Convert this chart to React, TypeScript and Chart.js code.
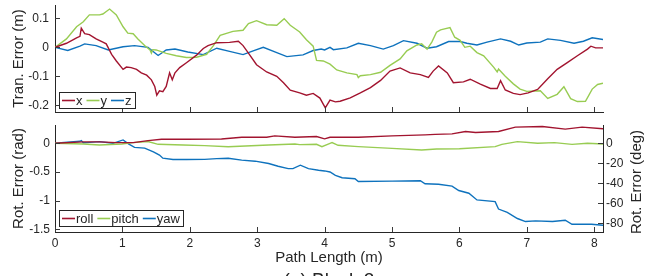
import React, { useEffect, useRef } from 'react';
import { Chart, registerables } from 'chart.js';

Chart.register(...registerables);

// ---------- data ----------
const pathTicks = [0, 1, 2, 3, 4, 5, 6, 7, 8];
const tranTicks = [-0.2, -0.1, 0, 0.1];
const radTicks = [-1.5, -1, -0.5, 0];
const degTicks = [-80, -60, -40, -20, 0];

const pathMax = 8.13;
const tranMin = -0.223;
const tranMax = 0.146;
const radMin = -1.547;
const radMax = 0.319;

const transLabels = ['x', 'y', 'z'];
const rotLabels = ['roll', 'pitch', 'yaw'];

const transX: [number, number][] = [
  [0, 0], [0.17, 0.014], [0.32, 0.033], [0.37, 0.038], [0.39, 0.066], [0.44, 0.047], [0.51, 0.044],
  [0.61, 0.029], [0.71, 0.018], [0.76, 0.012], [0.84, -0.024], [0.91, -0.047], [1.01, -0.076],
  [1.06, -0.068], [1.13, -0.07], [1.21, -0.076], [1.28, -0.088], [1.36, -0.096], [1.43, -0.112],
  [1.48, -0.135], [1.51, -0.165], [1.55, -0.15], [1.6, -0.153], [1.65, -0.135], [1.7, -0.088],
  [1.74, -0.112], [1.78, -0.088], [1.85, -0.07], [1.95, -0.053], [2.1, -0.027], [2.2, -0.004],
  [2.27, 0.006], [2.4, 0.016], [2.59, 0.017], [2.72, 0.021], [2.79, 0.006], [2.87, -0.02],
  [2.99, -0.06], [3.14, -0.085], [3.29, -0.1], [3.39, -0.122], [3.49, -0.148], [3.63, -0.157],
  [3.73, -0.165], [3.83, -0.159], [3.93, -0.175], [4.01, -0.209], [4.08, -0.182], [4.16, -0.188],
  [4.23, -0.186], [4.38, -0.174], [4.53, -0.157], [4.68, -0.139], [4.83, -0.114], [4.97, -0.082],
  [5.12, -0.071], [5.27, -0.088], [5.42, -0.094], [5.54, -0.104], [5.61, -0.082], [5.69, -0.064],
  [5.82, -0.088], [5.91, -0.122], [6.06, -0.119], [6.16, -0.11], [6.31, -0.127], [6.46, -0.142],
  [6.56, -0.142], [6.61, -0.115], [6.68, -0.147], [6.8, -0.159], [6.9, -0.163], [7.02, -0.157],
  [7.16, -0.145], [7.31, -0.108], [7.45, -0.076], [7.6, -0.053], [7.75, -0.029], [7.9, -0.006],
  [7.95, 0.004], [8.02, -0.002], [8.13, -0.002],
];

const transY: [number, number][] = [
  [0, 0], [0.17, 0.029], [0.32, 0.071], [0.42, 0.088], [0.51, 0.112], [0.66, 0.112], [0.71, 0.115],
  [0.81, 0.132], [0.91, 0.112], [1.01, 0.071], [1.08, 0.049], [1.16, 0.047], [1.23, 0.029],
  [1.33, 0.006], [1.41, -0.009], [1.43, -0.02], [1.45, -0.008], [1.5, -0.009], [1.65, -0.021],
  [1.8, -0.029], [1.95, -0.035], [2.1, -0.034], [2.25, -0.024], [2.35, 0.006], [2.45, 0.041],
  [2.64, 0.055], [2.79, 0.059], [2.87, 0.082], [2.99, 0.092], [3.14, 0.078], [3.29, 0.076],
  [3.4, 0.099], [3.49, 0.076], [3.63, 0.053], [3.73, 0.026], [3.83, 0.004], [3.88, -0.045],
  [3.98, -0.047], [4.08, -0.058], [4.18, -0.078], [4.33, -0.088], [4.48, -0.094], [4.5, -0.104],
  [4.53, -0.098], [4.68, -0.094], [4.83, -0.086], [4.97, -0.062], [5.12, -0.04], [5.22, -0.012],
  [5.37, 0.008], [5.44, 0.012], [5.52, -0.006], [5.59, 0.018], [5.66, 0.052], [5.72, 0.06],
  [5.86, 0.068], [5.93, 0.035], [6.01, 0.024], [6.08, 0.0], [6.16, 0.004], [6.26, -0.018],
  [6.36, -0.029], [6.51, -0.069], [6.56, -0.085], [6.58, -0.075], [6.68, -0.1], [6.8, -0.126],
  [6.9, -0.144], [7.0, -0.152], [7.2, -0.15], [7.31, -0.176], [7.45, -0.162], [7.55, -0.136],
  [7.65, -0.177], [7.75, -0.187], [7.87, -0.186], [7.97, -0.144], [8.05, -0.128], [8.13, -0.124],
];

const transZ: [number, number][] = [
  [0, 0], [0.19, -0.011], [0.37, 0.004], [0.44, 0.012], [0.61, 0.006], [0.79, -0.009], [1.01, 0.002],
  [1.18, 0.006], [1.38, 0.0], [1.53, -0.028], [1.65, -0.009], [1.78, -0.006], [1.97, -0.016],
  [2.2, -0.025], [2.4, -0.003], [2.59, -0.014], [2.79, -0.025], [2.94, -0.012], [3.09, 0.0],
  [3.29, -0.018], [3.44, -0.032], [3.68, -0.026], [3.83, -0.011], [3.95, -0.006], [4.0, -0.009],
  [4.08, 0.0], [4.13, -0.008], [4.33, -0.002], [4.5, 0.014], [4.68, 0.006], [4.87, -0.006],
  [5.02, 0.006], [5.17, 0.023], [5.37, 0.014], [5.52, -0.003], [5.66, 0.002], [5.84, 0.02],
  [6.01, 0.02], [6.11, 0.014], [6.26, 0.008], [6.41, 0.018], [6.61, 0.029], [6.76, 0.021],
  [6.88, 0.008], [7.0, 0.015], [7.2, 0.018], [7.31, 0.029], [7.5, 0.024], [7.7, 0.014],
  [7.84, 0.021], [7.97, 0.033], [8.13, 0.027],
];

const rotRoll: [number, number][] = [
  [0, 0], [0.42, 0.024], [0.66, 0.024], [0.91, 0.012], [1.16, 0.012], [1.38, 0.047], [1.58, 0.07],
  [1.95, 0.07], [2.47, 0.076], [2.77, 0.106], [3.14, 0.106], [3.26, 0.129], [3.56, 0.106],
  [3.88, 0.118], [4.0, 0.078], [4.08, 0.106], [4.5, 0.106], [5.0, 0.129], [5.49, 0.147],
  [5.64, 0.155], [5.89, 0.165], [6.09, 0.206], [6.24, 0.188], [6.58, 0.206], [6.83, 0.282],
  [7.23, 0.294], [7.57, 0.247], [7.82, 0.282], [8.13, 0.253],
];

const rotPitch: [number, number][] = [
  [0, 0], [0.42, -0.012], [0.66, -0.029], [0.99, -0.012], [1.16, 0.012], [1.38, 0.03], [1.53, -0.018],
  [1.9, -0.029], [2.22, -0.041], [2.57, -0.059], [3.17, -0.029], [3.56, -0.012], [3.63, -0.024],
  [3.88, -0.018], [3.96, -0.059], [4.08, 0.0], [4.11, 0.012], [4.2, -0.035], [4.5, -0.059],
  [5.0, -0.088], [5.44, -0.118], [5.66, -0.1], [6.0, -0.094], [6.53, -0.059], [6.63, -0.018],
  [6.86, 0.029], [7.16, 0.0], [7.41, 0.012], [7.67, -0.018], [7.9, 0.0], [8.13, -0.012],
];

const rotYaw: [number, number][] = [
  [0, 0], [0.37, 0.035], [0.39, 0.047], [0.42, 0.01], [0.47, 0.012], [0.66, 0.029], [0.86, 0.0],
  [1.01, 0.059], [1.09, -0.01], [1.18, -0.071], [1.33, -0.085], [1.46, -0.15], [1.55, -0.206],
  [1.6, -0.26], [1.75, -0.282], [1.95, -0.282], [2.22, -0.28], [2.4, -0.268], [2.57, -0.262],
  [2.77, -0.294], [2.97, -0.312], [3.17, -0.353], [3.31, -0.4], [3.46, -0.441], [3.53, -0.441],
  [3.64, -0.382], [3.76, -0.441], [3.91, -0.47], [4.0, -0.482], [4.08, -0.5], [4.16, -0.559],
  [4.26, -0.6], [4.45, -0.618], [4.5, -0.665], [5.0, -0.659], [5.42, -0.653], [5.49, -0.706],
  [5.69, -0.715], [5.89, -0.747], [5.99, -0.824], [6.14, -0.871], [6.26, -0.988], [6.53, -1.018],
  [6.58, -1.147], [6.71, -1.206], [6.86, -1.312], [6.98, -1.365], [7.13, -1.353], [7.38, -1.365],
  [7.57, -1.341], [7.67, -1.412], [7.96, -1.412], [8.13, -1.429],
];

const titleTran = 'Tran. Error (m)';
const titleRad = 'Rot. Error (rad)';
const titleDeg = 'Rot. Error (deg)';
const titlePath = 'Path Length (m)';
const caption = '(a) Block 2';

// ---------- styles ----------
const RED = '#A2142F';
const GREEN = '#98CC52';
const BLUE = '#0E72BD';
const INK = '#262626';
const FONT = '"Liberation Sans", Arial, Helvetica, sans-serif';

const toXY = (arr: [number, number][]) => arr.map(([x, y]) => ({ x, y }));

const decor = {
  id: 'decor',
  afterDraw(chart: any, _args: any, opts: any) {
    const ctx = chart.ctx as CanvasRenderingContext2D;
    const a = chart.chartArea;
    ctx.save();
    // inward tick marks
    ctx.strokeStyle = '#3a3a3a';
    ctx.lineWidth = 1;
    const L = 5;
    Object.keys(chart.scales).forEach((id) => {
      const s = chart.scales[id];
      s.ticks.forEach((t: any) => {
        const p = Math.round(s.getPixelForValue(t.value)) + 0.5;
        ctx.beginPath();
        if (s.position === 'bottom') {
          ctx.moveTo(p, a.bottom);
          ctx.lineTo(p, a.bottom - L);
        } else if (s.position === 'left') {
          ctx.moveTo(a.left, p);
          ctx.lineTo(a.left + L, p);
        } else if (s.position === 'right') {
          ctx.moveTo(a.right, p);
          ctx.lineTo(a.right - L, p);
        }
        ctx.stroke();
      });
    });
    // boxed legend
    if (opts.legend) {
      const { x, y, h } = opts.legend;
      ctx.font = `13px ${FONT}`;
      const items = chart.data.datasets.map((d: any) => ({ label: d.label, color: d.borderColor }));
      let w = 3;
      items.forEach((it: any, i: number) => {
        w += 13 + 1 + ctx.measureText(it.label).width + (i < items.length - 1 ? 4 : 3);
      });
      w = Math.round(w);
      ctx.fillStyle = '#ffffff';
      ctx.fillRect(x, y, w, h);
      ctx.strokeStyle = INK;
      ctx.lineWidth = 1;
      ctx.strokeRect(x + 0.5, y + 0.5, w, h);
      const cy = y + h / 2 + 0.5;
      let cx = x + 3;
      items.forEach((it: any) => {
        ctx.strokeStyle = it.color;
        ctx.lineWidth = 1.6;
        ctx.beginPath();
        ctx.moveTo(cx, cy);
        ctx.lineTo(cx + 13, cy);
        ctx.stroke();
        cx += 14;
        ctx.fillStyle = INK;
        ctx.textAlign = 'left';
        ctx.textBaseline = 'middle';
        ctx.fillText(it.label, cx, cy + 0.5);
        cx += ctx.measureText(it.label).width + 4;
      });
    }
    // extra texts
    (opts.texts || []).forEach((t: any) => {
      ctx.save();
      ctx.translate(t.x, t.y);
      ctx.rotate(t.rot || 0);
      ctx.font = t.font;
      ctx.fillStyle = INK;
      ctx.textAlign = 'center';
      ctx.textBaseline = t.baseline || 'middle';
      ctx.fillText(t.text, 0, 0);
      ctx.restore();
    });
    ctx.restore();
  },
};

const fixSize = (w?: number, h?: number) => (s: any) => {
  if (w !== undefined) s.width = w;
  if (h !== undefined) s.height = h;
  s.paddingTop = 0;
  s.paddingBottom = 0;
  s.paddingLeft = 0;
  s.paddingRight = 0;
};

const setTicks = (vals: number[]) => (s: any) => {
  s.ticks = vals.map((v) => ({ value: v }));
};

const tickFont = { family: FONT, size: 12 };
const titleFont = { family: FONT, size: 15 };

const line = (label: string, color: string, arr: [number, number][]) => ({
  label,
  data: toXY(arr),
  borderColor: color,
  backgroundColor: color,
  borderWidth: 1.4,
  pointRadius: 0,
  tension: 0,
  fill: false,
});

export default function App() {
  const topRef = useRef<HTMLCanvasElement>(null);
  const botRef = useRef<HTMLCanvasElement>(null);

  useEffect(() => {
    const top = new Chart(topRef.current as HTMLCanvasElement, {
      type: 'line',
      data: {
        datasets: [
          line(transLabels[0], RED, transX),
          line(transLabels[1], GREEN, transY),
          line(transLabels[2], BLUE, transZ),
        ],
      },
      options: {
        responsive: false,
        animation: false,
        devicePixelRatio: 1,
        layout: { padding: { top: 5, right: 50, left: 0, bottom: 0 } },
        plugins: {
          legend: { display: false },
          tooltip: { enabled: false },
          decor: { legend: { x: 59, y: 92, h: 16 } },
        } as any,
        scales: {
          x: {
            type: 'linear',
            min: 0,
            max: pathMax,
            afterBuildTicks: setTicks(pathTicks),
            afterFit: fixSize(undefined, 8),
            grid: { display: false, drawTicks: false },
            border: { display: true, color: INK, width: 1 },
            ticks: { display: false },
          },
          y: {
            type: 'linear',
            min: tranMin,
            max: tranMax,
            afterBuildTicks: setTicks(tranTicks),
            afterFit: fixSize(55, undefined),
            grid: { display: false, drawTicks: false },
            border: { display: true, color: INK, width: 1 },
            ticks: { font: tickFont, color: INK, padding: 6, callback: (v: any) => String(v) },
            title: { display: true, text: titleTran, font: titleFont, color: INK, padding: { top: 10, bottom: 0 } },
          },
        },
      } as any,
      plugins: [decor],
    });

    const radToDeg = 180 / Math.PI;
    const bot = new Chart(botRef.current as HTMLCanvasElement, {
      type: 'line',
      data: {
        datasets: [
          line(rotLabels[0], RED, rotRoll),
          line(rotLabels[1], GREEN, rotPitch),
          line(rotLabels[2], BLUE, rotYaw),
        ],
      },
      options: {
        responsive: false,
        animation: false,
        devicePixelRatio: 1,
        layout: { padding: { top: 7, right: 0, left: 0, bottom: 0 } },
        plugins: {
          legend: { display: false },
          tooltip: { enabled: false },
          decor: {
            legend: { x: 59, y: 92, h: 16 },
            texts: [
              { text: titleDeg, x: 637, y: 64, rot: -Math.PI / 2, font: `15px ${FONT}` },
              { text: caption, x: 329, y: 168, baseline: 'alphabetic', font: `19px ${FONT}` },
            ],
          },
        } as any,
        scales: {
          x: {
            type: 'linear',
            min: 0,
            max: pathMax,
            afterBuildTicks: setTicks(pathTicks),
            afterFit: fixSize(undefined, 44),
            grid: { display: false, drawTicks: false },
            border: { display: true, color: INK, width: 1 },
            ticks: { font: tickFont, color: INK, padding: 4, maxRotation: 0, callback: (v: any) => String(v) },
            title: { display: true, text: titlePath, font: titleFont, color: INK, padding: { top: 0, bottom: 9 } },
          },
          y: {
            type: 'linear',
            position: 'left',
            min: radMin,
            max: radMax,
            afterBuildTicks: setTicks(radTicks),
            afterFit: fixSize(55, undefined),
            grid: { display: false, drawTicks: false },
            border: { display: true, color: INK, width: 1 },
            ticks: { font: tickFont, color: INK, padding: 5, callback: (v: any) => String(v) },
            title: { display: true, text: titleRad, font: titleFont, color: INK, padding: { top: 10, bottom: 0 } },
          },
          yDeg: {
            type: 'linear',
            position: 'right',
            min: radMin * radToDeg,
            max: radMax * radToDeg,
            afterBuildTicks: setTicks(degTicks),
            afterFit: fixSize(50, undefined),
            grid: { display: false, drawTicks: false },
            border: { display: true, color: INK, width: 1 },
            ticks: { font: tickFont, color: INK, padding: 3, callback: (v: any) => String(v) },
          },
        },
      } as any,
      plugins: [decor],
    });

    return () => {
      top.destroy();
      bot.destroy();
    };
  }, []);

  return (
    <div style={{ position: 'fixed', left: 0, top: 0, width: 653, height: 276, background: '#fff', overflow: 'hidden' }}>
      <canvas ref={topRef} width={653} height={120} style={{ position: 'absolute', left: 0, top: 0 }} />
      <canvas ref={botRef} width={653} height={158} style={{ position: 'absolute', left: 0, top: 118 }} />
    </div>
  );
}
